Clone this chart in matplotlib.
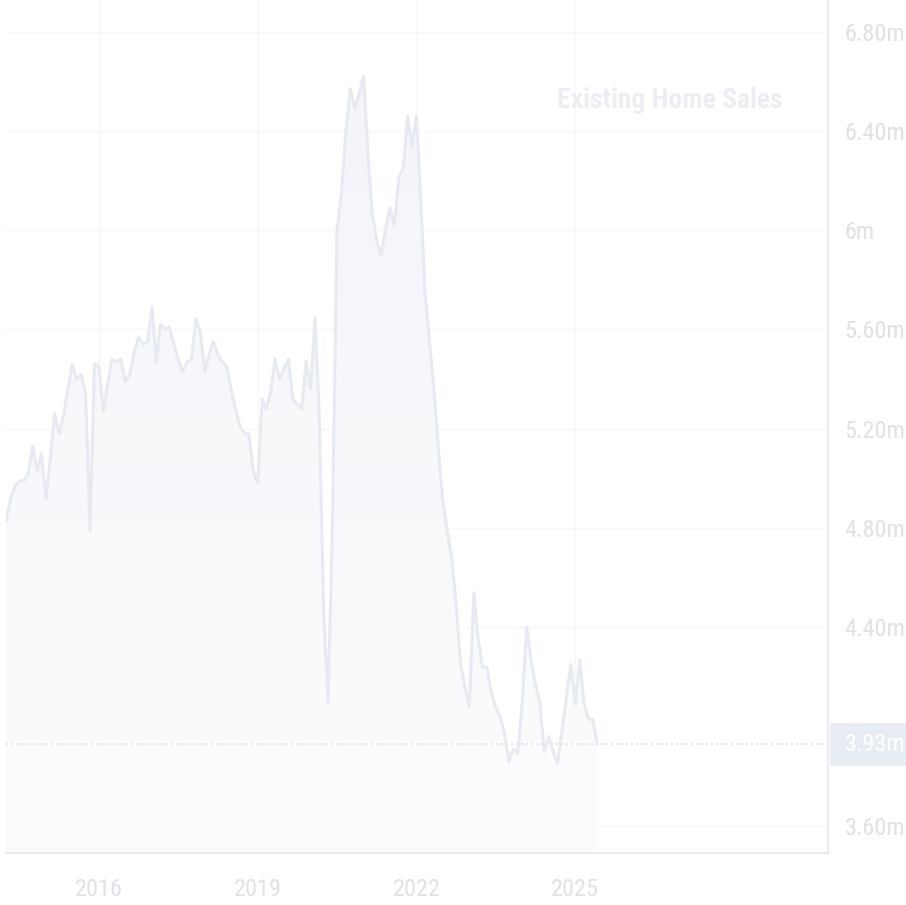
import numpy as np
import pandas as pd
import matplotlib
matplotlib.use("Agg")
import matplotlib.pyplot as plt
import matplotlib.dates as mdates
from matplotlib.colors import LinearSegmentedColormap
from matplotlib.transforms import blended_transform_factory
from matplotlib.patches import Rectangle

# ---- data (millions, monthly, Apr 2014 .. Jun 2025) ----
start_month = "2014-04-01"
sales = [
    4.83, 4.92, 4.97, 4.99, 4.99, 5.02, 5.13, 5.03, 5.10, 4.92,
    5.09, 5.26, 5.18, 5.25, 5.36, 5.46, 5.40, 5.42, 5.34, 4.79,
    5.46, 5.45, 5.27, 5.38, 5.48, 5.47, 5.48, 5.39, 5.42, 5.51,
    5.57, 5.54, 5.55, 5.69, 5.47, 5.62, 5.60, 5.61, 5.54, 5.48,
    5.43, 5.47, 5.48, 5.64, 5.59, 5.43, 5.50, 5.55, 5.50, 5.47,
    5.45, 5.36, 5.28, 5.21, 5.18, 5.18, 5.03, 4.98, 5.32, 5.28,
    5.35, 5.48, 5.40, 5.44, 5.48, 5.32, 5.30, 5.28, 5.47, 5.36,
    5.65, 5.25, 4.45, 4.10, 4.85, 6.00, 6.15, 6.40, 6.57, 6.49,
    6.55, 6.62, 6.30, 6.07, 5.96, 5.90, 6.00, 6.09, 6.02, 6.21,
    6.25, 6.46, 6.34, 6.46, 6.10, 5.75, 5.55, 5.36, 5.12, 4.91,
    4.79, 4.68, 4.50, 4.25, 4.16, 4.08, 4.54, 4.36, 4.24, 4.24,
    4.14, 4.08, 4.04, 3.97, 3.86, 3.91, 3.89, 4.10, 4.40, 4.27,
    4.17, 4.10, 3.90, 3.96, 3.90, 3.85, 3.98, 4.12, 4.25, 4.09,
    4.27, 4.10, 4.03, 4.03, 3.93,
]
dates = pd.date_range(start_month, periods=len(sales), freq="MS")
last_value = sales[-1]
last_label = "3.93m"

y_ticks = [3.60, 4.40, 4.80, 5.20, 5.60, 6.00, 6.40, 6.80]
y_tick_labels = ["3.60m", "4.40m", "4.80m", "5.20m", "5.60m", "6m", "6.40m", "6.80m"]
x_tick_years = ["2016", "2019", "2022", "2025"]
title = "Existing Home Sales"

# ---- styling ----
W, H, DPI = 906, 905, 100
FONT = ["Roboto Condensed", "Roboto", "DejaVu Sans"]
line_col = "#e7ebf1"
label_col = "#e1e2e6"
title_col = "#eceef3"
grid_col = "#f7f7f8"
FS = 17.5

fig = plt.figure(figsize=(W / DPI, H / DPI), dpi=DPI, facecolor="white")
ax = fig.add_axes([6 / W, (H - 853) / H, (828 - 6) / W, 853 / H])
ax.set_facecolor("white")

x = mdates.date2num(dates)
y = np.array(sales)

# limits (pixel-calibrated)
px_per_day = 4.41 / 30.44
x_left = x[0] - 0.2 / px_per_day
x_right = x[0] + (828 - 6.2) / px_per_day
y_lo, y_hi = 3.491, 6.927
ax.set_xlim(x_left, x_right)
ax.set_ylim(y_lo, y_hi)
px_per_val = 853 / (y_hi - y_lo)

# gradient area fill
poly = ax.fill_between(x, y, 3.0, facecolor="none", edgecolor="none")
cmap = LinearSegmentedColormap.from_list("g", ["#fbfcfd", "#f3f5f9"])
grad = np.linspace(0, 1, 256).reshape(-1, 1)
im = ax.imshow(grad, cmap=cmap, aspect="auto", origin="lower",
               extent=[x[0], x[-1], y_lo, max(sales)], zorder=1)
im.set_clip_path(poly.get_paths()[0], transform=ax.transData)
ax.plot(x, y, color=line_col, lw=2.2, zorder=3, solid_joinstyle="round")

# last value dotted line
ax.axhline(last_value, color="#dde1e8", lw=1.2, ls=(0, (1.2, 1.8)), zorder=2)

# grid
xtk_pos = [mdates.date2num(pd.Timestamp(f"{yr}-01-01")) for yr in x_tick_years]
for xv in xtk_pos:
    ax.axvline(xv, color=grid_col, lw=1, zorder=0)
for yv in y_ticks:
    ax.axhline(yv, color=grid_col, lw=1, zorder=0)

# spines
for s in ["top", "left"]:
    ax.spines[s].set_visible(False)
for s in ["bottom", "right"]:
    ax.spines[s].set_color("#ebebed")
    ax.spines[s].set_linewidth(1.5)

ax.yaxis.tick_right()
ax.set_yticks(y_ticks)
ax.set_yticklabels(y_tick_labels, fontfamily=FONT, fontsize=FS, color=label_col)
ax.set_xticks(xtk_pos)
ax.set_xticklabels(x_tick_years, fontfamily=FONT, fontsize=FS, color=label_col)
ax.tick_params(axis="y", length=0, pad=12)
ax.tick_params(axis="x", length=0, pad=18)

# last value label box
tr = blended_transform_factory(ax.transAxes, ax.transData)
ax_w = 828 - 6
box_h = 43 / px_per_val
ax.add_patch(Rectangle((1 + 2 / ax_w, last_value - box_h / 2), (906 - 830) / ax_w, box_h,
                       transform=tr, facecolor="#e8ecf3", edgecolor="none",
                       clip_on=False, zorder=5))
ax.text(1 + (845 - 828) / ax_w, last_value, last_label, transform=tr, ha="left", va="center",
        fontfamily=FONT, fontsize=FS, color="white", clip_on=False, zorder=6)

# title
fig.text(557 / W, 1 - 100 / H, title, ha="left", va="center",
         fontfamily=FONT, fontsize=19.8, fontweight="bold", color=title_col)

fig.savefig("out.png", dpi=DPI, facecolor="white")
